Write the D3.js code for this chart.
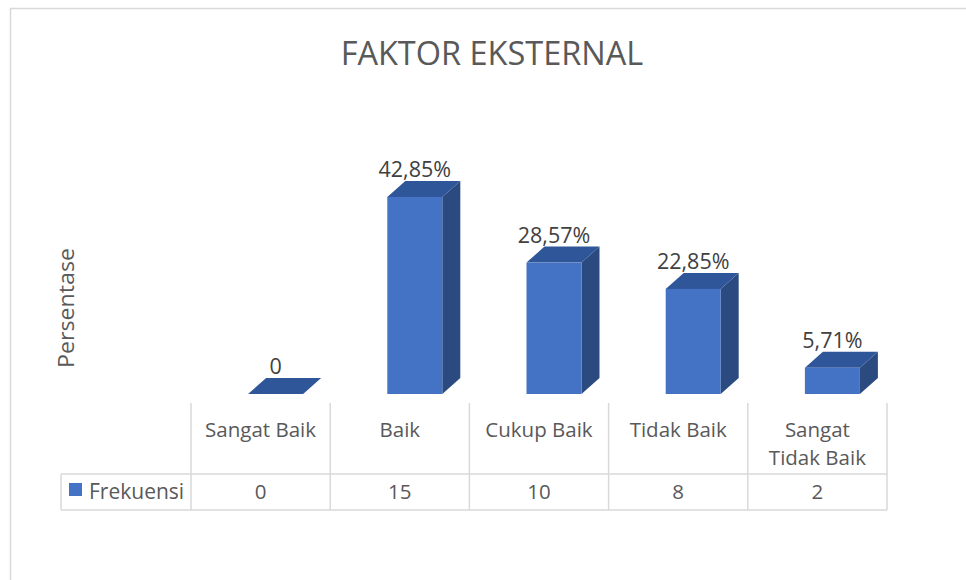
<!DOCTYPE html>
<html lang="en">
<head>
<meta charset="UTF-8">
<title>Faktor Eksternal</title>
<script src="https://cdn.jsdelivr.net/npm/d3@7"></script>
<style>
  body { margin: 0; background: #fff; }
  text { font-family: "Open Sans", "Noto Sans", sans-serif; }
</style>
</head>
<body>
<script>
// data
var categories = ["Sangat Baik", "Baik", "Cukup Baik", "Tidak Baik", "Sangat Tidak Baik"];
var persen = [0, 42.85, 28.57, 22.85, 5.71];
var persenLabels = ["0", "42,85%", "28,57%", "22,85%", "5,71%"];
var frekuensi = [0, 15, 10, 8, 2];
var seriesName = "Frekuensi";

var w = 966, h = 580;
var baseY = 394;
var depthX = 18, depthY = -16;
var barW = 55;

var svg = d3.select("body").append("svg")
  .attr("width", w)
  .attr("height", h);

// chart border
svg.append("path")
  .attr("d", "M10.5,600 V8.5 H980")
  .attr("fill", "none")
  .attr("stroke", "#d9d9d9")
  .attr("stroke-width", 1.5);

// title
svg.append("text")
  .attr("x", 492)
  .attr("y", 65)
  .attr("text-anchor", "middle")
  .attr("font-size", 32.5)
  .attr("fill", "#595959")
  .text("FAKTOR EKSTERNAL");

// y axis title
svg.append("text")
  .attr("transform", "translate(74,308) rotate(-90)")
  .attr("text-anchor", "middle")
  .attr("font-size", 22)
  .attr("fill", "#595959")
  .attr("textLength", 120)
  .attr("lengthAdjust", "spacingAndGlyphs")
  .text("Persentase");

var xScale = d3.scaleBand()
  .domain(categories)
  .range([191, 887])
  .padding(0);

var yScale = d3.scaleLinear()
  .domain([0, 50])
  .range([baseY, baseY - 230]);

var data = categories.map(function(c, i) {
  return { cat: c, val: persen[i], label: persenLabels[i], freq: frekuensi[i] };
});

function frontX(d) {
  return xScale(d.cat) + xScale.bandwidth() / 2 - 12.5;
}

var bars = svg.selectAll("g.bar")
  .data(data)
  .enter()
  .append("g")
  .attr("class", "bar");

// side face
bars.append("path")
  .attr("d", function(d) {
    var x1 = frontX(d) + barW, yt = yScale(d.val);
    return "M" + x1 + "," + baseY + " L" + (x1 + depthX) + "," + (baseY + depthY) +
      " L" + (x1 + depthX) + "," + (yt + depthY) + " L" + x1 + "," + yt + "Z";
  })
  .attr("fill", "#2a4a80");

// top face
bars.append("path")
  .attr("d", function(d) {
    var x0 = frontX(d), yt = yScale(d.val);
    return "M" + x0 + "," + yt + " L" + (x0 + depthX) + "," + (yt + depthY) +
      " L" + (x0 + barW + depthX) + "," + (yt + depthY) + " L" + (x0 + barW) + "," + yt + "Z";
  })
  .attr("fill", "#30569a");

// front face
bars.append("rect")
  .attr("x", function(d) { return frontX(d); })
  .attr("y", function(d) { return yScale(d.val); })
  .attr("width", barW)
  .attr("height", function(d) { return baseY - yScale(d.val); })
  .attr("fill", "#4472c4");

// value labels
bars.append("text")
  .attr("x", function(d) { return frontX(d) + barW / 2; })
  .attr("y", function(d) { return yScale(d.val) + depthY - 4; })
  .attr("text-anchor", "middle")
  .attr("font-size", 21.5)
  .attr("fill", "#404040")
  .text(function(d) { return d.label; });

// data table
var gridColor = "#d9d9d9";
var rowTop = 403, rowMid = 474, rowBot = 510, legendLeft = 61;
var table = svg.append("g").attr("stroke", gridColor).attr("stroke-width", 1.5);

var colEdges = categories.map(function(c) { return xScale(c); }).concat([xScale.range()[1]]);
table.selectAll("line.v")
  .data(colEdges)
  .enter()
  .append("line")
  .attr("x1", function(d) { return d; })
  .attr("x2", function(d) { return d; })
  .attr("y1", rowTop)
  .attr("y2", rowBot);

table.append("line").attr("x1", legendLeft).attr("x2", legendLeft).attr("y1", rowMid).attr("y2", rowBot);
table.append("line").attr("x1", legendLeft).attr("x2", 887).attr("y1", rowMid).attr("y2", rowMid);
table.append("line").attr("x1", legendLeft).attr("x2", 887).attr("y1", rowBot).attr("y2", rowBot);

// category headers (wrapped when too wide)
svg.selectAll("text.cat")
  .data(categories)
  .enter()
  .append("text")
  .attr("class", "cat")
  .attr("text-anchor", "middle")
  .attr("font-size", 20.5)
  .attr("fill", "#595959")
  .each(function(c) {
    var t = d3.select(this);
    var cx = xScale(c) + xScale.bandwidth() / 2;
    var lines = c.length > 12 ? ["Sangat", "Tidak Baik"] : [c];
    lines.forEach(function(l, i) {
      t.append("tspan").attr("x", cx).attr("y", 437 + i * 28).text(l);
    });
  });

// frequency row
svg.selectAll("text.freq")
  .data(data)
  .enter()
  .append("text")
  .attr("class", "freq")
  .attr("x", function(d) { return xScale(d.cat) + xScale.bandwidth() / 2; })
  .attr("y", 499)
  .attr("text-anchor", "middle")
  .attr("font-size", 20.5)
  .attr("fill", "#595959")
  .text(function(d) { return d.freq; });

// legend key
svg.append("rect")
  .attr("x", 69)
  .attr("y", 483)
  .attr("width", 13)
  .attr("height", 13)
  .attr("fill", "#4472c4");
svg.append("text")
  .attr("x", 89)
  .attr("y", 499)
  .attr("font-size", 21)
  .attr("fill", "#595959")
  .text(seriesName);
</script>
</body>
</html>
